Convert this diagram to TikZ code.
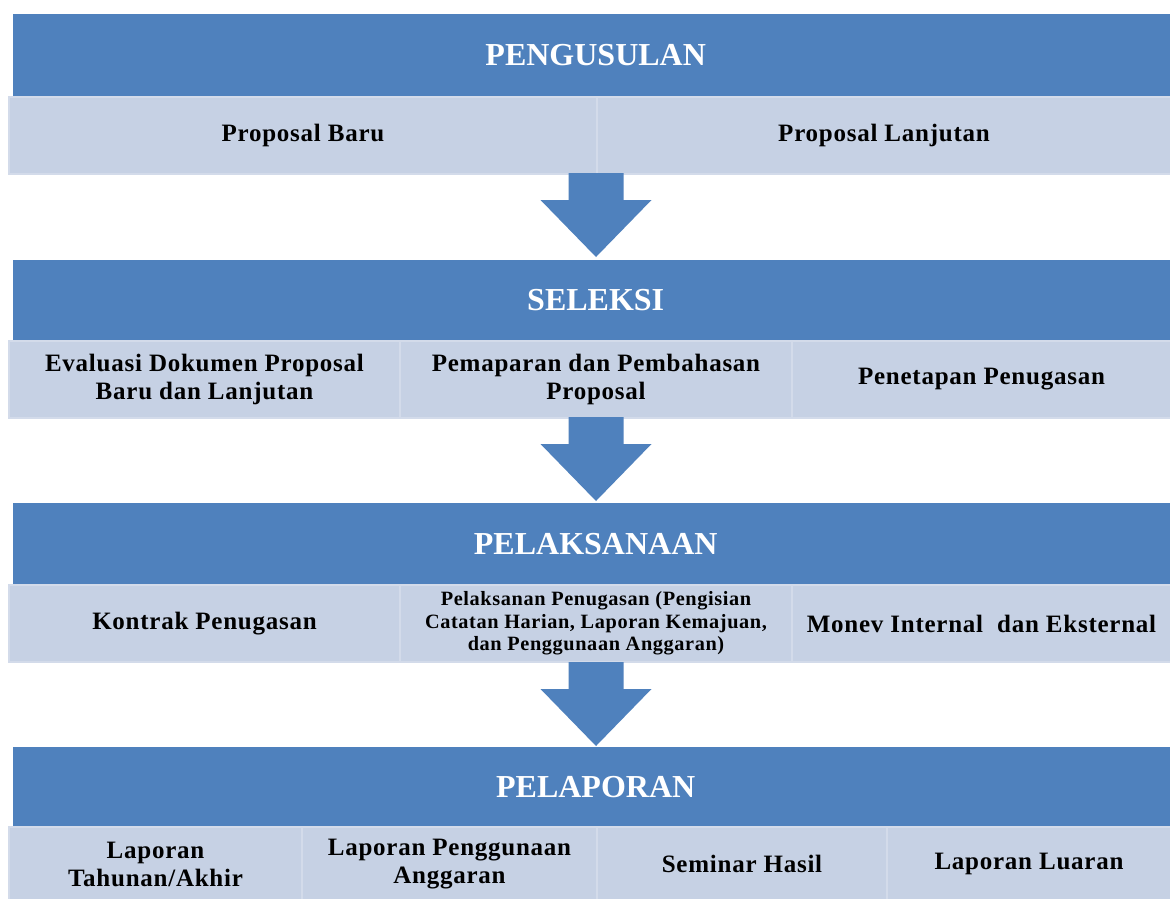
\documentclass[tikz,border=0pt]{standalone}
\usepackage{fontspec}
\setmainfont{Liberation Serif}
\newfontfamily\cellfont[LetterSpace=3]{Liberation Serif}
\definecolor{dark}{HTML}{4F81BD}
\definecolor{light}{HTML}{C6D1E4}
\definecolor{edge}{HTML}{D3DBEA}
\tikzset{
  hdr/.style={fill=dark, draw=none, inner sep=0, anchor=north west, minimum width=1165, minimum height=82,
    text=white, font=\fontsize{32}{38}\selectfont\bfseries},
  cell/.style={fill=light, draw=edge, line width=2, inner sep=0, anchor=north west, align=center,
    font=\cellfont\fontsize{25}{28}\selectfont\bfseries},
  smallcell/.style={cell, font=\cellfont\fontsize{20.3}{22.5}\selectfont\bfseries},
  downarrow/.pic={\fill[dark] (-27.5,0) -- (27.5,0) -- (27.5,27) -- (55.5,27) -- (0,84) -- (-55.5,27) -- (-27.5,27) -- cycle;}
}
\begin{document}
\begin{tikzpicture}[x=1pt,y=-1pt]
\useasboundingbox (0,0) rectangle (1170,898);
\fill[white] (0,0) rectangle (1170,898);
% Stage 1
\node[hdr] (h1) at (13,14) {PENGUSULAN};
\node[cell, minimum width=588, minimum height=77] (c11) at (8,96) {Proposal Baru};
\node[cell, minimum width=574, minimum height=77] (c12) at (596,96) {Proposal Lanjutan};
\coordinate (a1) at (596,173);
\pic at (a1) {downarrow};
% Stage 2
\node[hdr, minimum height=80] (h2) at (13,260) {SELEKSI};
\node[cell, minimum width=391, minimum height=77] (c21) at (8,340) {Evaluasi Dokumen Proposal\\Baru dan Lanjutan};
\node[cell, minimum width=392, minimum height=77] (c22) at (399,340) {Pemaparan dan Pembahasan\\Proposal};
\node[cell, minimum width=379, minimum height=77] (c23) at (791,340) {Penetapan Penugasan};
\coordinate (a2) at (596,417);
\pic at (a2) {downarrow};
% Stage 3
\node[hdr, minimum height=81] (h3) at (13,503) {PELAKSANAAN};
\node[cell, minimum width=391, minimum height=77] (c31) at (8,584) {Kontrak Penugasan};
\node[smallcell, minimum width=392, minimum height=77] (c32) at (399,584) {Pelaksanan Penugasan (Pengisian\\Catatan Harian, Laporan Kemajuan,\\dan Penggunaan Anggaran)};
\node[cell, minimum width=379, minimum height=77] (c33) at (791,584) {Monev Internal\ \ dan Eksternal};
\coordinate (a3) at (596,662);
\pic at (a3) {downarrow};
% Stage 4
\node[hdr, minimum height=79] (h4) at (13,747) {PELAPORAN};
\node[cell, minimum width=293, minimum height=74] (c41) at (8,826) {Laporan\\Tahunan/Akhir};
\node[cell, minimum width=295, minimum height=74] (c42) at (301,826) {Laporan Penggunaan\\Anggaran};
\node[cell, minimum width=290, minimum height=74] (c43) at (596,826) {Seminar Hasil};
\node[cell, minimum width=284, minimum height=74] (c44) at (886,826) {Laporan Luaran};
\end{tikzpicture}
\end{document}
